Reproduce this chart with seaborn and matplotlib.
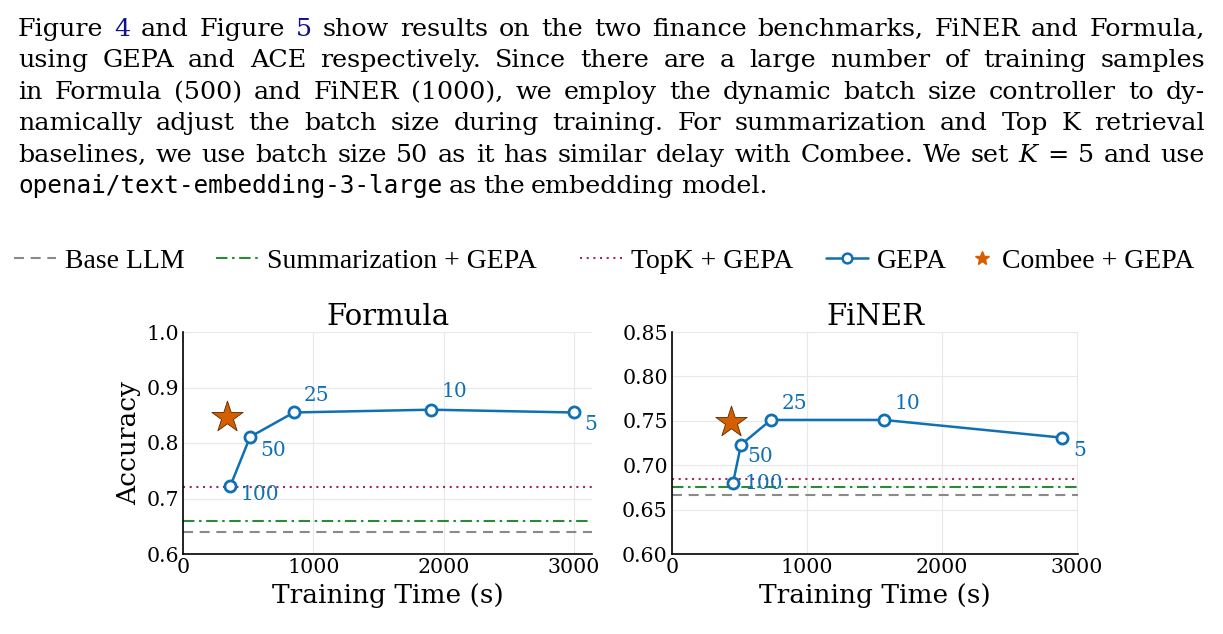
import matplotlib as mpl
import matplotlib.pyplot as plt
from matplotlib.lines import Line2D
import pandas as pd
import seaborn as sns

W, H, DPI = 1223, 634, 100

# --- data ------------------------------------------------------------------
BATCH_SIZES = ["100", "50", "25", "10", "5"]

FORMULA_TIME = [364, 515, 851, 1905, 3000]
FORMULA_ACC = [0.723, 0.811, 0.855, 0.860, 0.855]
FORMULA_COMBEE_TIME = [341]
FORMULA_COMBEE_ACC = [0.846]
FORMULA_BASE = 0.640
FORMULA_SUMM = 0.660
FORMULA_TOPK = 0.720
FORMULA_YTICKS = [0.6, 0.7, 0.8, 0.9, 1.0]

FINER_TIME = [452, 511, 733, 1568, 2891]
FINER_ACC = [0.680, 0.723, 0.751, 0.751, 0.731]
FINER_COMBEE_TIME = [437]
FINER_COMBEE_ACC = [0.749]
FINER_BASE = 0.666
FINER_SUMM = 0.675
FINER_TOPK = 0.685
FINER_YTICKS = [0.60, 0.65, 0.70, 0.75, 0.80, 0.85]

XTICKS = [0, 1000, 2000, 3000]

LEGEND_LABELS = ["Base LLM", "Summarization + GEPA", "TopK + GEPA", "GEPA", "Combee + GEPA"]

PARAGRAPH = [
    "Figure @4 and Figure @5 show results on the two finance benchmarks, FiNER and Formula,",
    "using GEPA and ACE respectively. Since there are a large number of training samples",
    "in Formula (500) and FiNER (1000), we employ the dynamic batch size controller to dy-",
    "namically adjust the batch size during training. For summarization and Top K retrieval",
    "baselines, we use batch size 50 as it has similar delay with Combee. We set _K = 5 and use",
    "`openai/text-embedding-3-large as the embedding model.",
]

# --- style -------------------------------------------------------------------
COLOR = {
    "blue": "#1070B4",
    "orange": "#D55E00",
    "gray": "#8A8A8A",
    "green": "#2A8A3A",
    "purple": "#9C2B62",
    "link": "#10108A",
    "grid": "#E8E8E8",
}
DASHED = (0, (4.8, 3.2))
DASHDOT = (0, (5.5, 2.2, 1.2, 2.2))
DOTTED = (0, (1.0, 2.2))
LEGEND_FONT = "Liberation Serif"
PARA_FONT = "DejaVu Serif"


def draw_panel(ax, title, time, acc, combee_t, combee_a, base, summ, topk,
               yticks, ylim, xmax, fmt, offsets):
    ax.axhline(base, color=COLOR["gray"], ls=DASHED, lw=1.5, zorder=2)
    ax.axhline(summ, color=COLOR["green"], ls=DASHDOT, lw=1.5, zorder=2)
    ax.axhline(topk, color=COLOR["purple"], ls=DOTTED, lw=1.5, zorder=2)

    df = pd.DataFrame({"time": time, "acc": acc})
    sns.lineplot(data=df, x="time", y="acc", ax=ax, color=COLOR["blue"], lw=1.8,
                 marker="o", markersize=8, markerfacecolor="white",
                 markeredgecolor=COLOR["blue"], markeredgewidth=2.0, zorder=4)
    sns.scatterplot(x=combee_t, y=combee_a, ax=ax, marker="*", s=560,
                    color=COLOR["orange"], edgecolor="#5a2a00", linewidth=0.6, zorder=5)

    for t, a, lab, off in zip(time, acc, BATCH_SIZES, offsets):
        ax.annotate(lab, (t, a), xytext=off, textcoords="offset points",
                    ha="center", va="center", fontsize=14.5, color=COLOR["blue"])

    ax.set_xlim(0, xmax)
    ax.set_ylim(*ylim)
    ax.set_xticks(XTICKS)
    ax.set_yticks(yticks)
    ax.set_yticklabels([fmt.format(v) for v in yticks])
    ax.set_title(title, fontsize=21, pad=5, color="black")
    ax.set_xlabel("Training Time (s)", fontsize=19, labelpad=4, color="black")
    ax.set_ylabel("")
    ax.tick_params(direction="in", length=4, width=1, labelsize=14.8, pad=3, colors="black")
    ax.grid(True, color=COLOR["grid"], lw=0.8)
    for side in ["top", "right"]:
        ax.spines[side].set_visible(False)
    for side in ["left", "bottom"]:
        ax.spines[side].set_color("black")
        ax.spines[side].set_linewidth(1.2)


def draw_legend(fig):
    handles = [
        Line2D([], [], color=COLOR["gray"], ls=DASHED, lw=1.5),
        Line2D([], [], color=COLOR["green"], ls=DASHDOT, lw=1.5),
        Line2D([], [], color=COLOR["purple"], ls=DOTTED, lw=1.5),
        Line2D([], [], color=COLOR["blue"], lw=1.8, marker="o", markersize=7,
               markerfacecolor="white", markeredgecolor=COLOR["blue"], markeredgewidth=1.8),
        Line2D([], [], ls="none", marker="*", markersize=10, color=COLOR["orange"]),
    ]
    x_px = [14, 216, 580, 826, 971]
    hlen = [1.5, 1.5, 1.5, 1.5, 0.78]
    # one legend per entry so every item sits where it does in the reference
    for h, lab, x, hl in zip(handles, LEGEND_LABELS, x_px, hlen):
        fig.legend([h], [lab], loc="center left", bbox_to_anchor=(x / W, 1 - 261 / H),
                   frameon=False, borderpad=0, borderaxespad=0, handlelength=hl,
                   handletextpad=0.33, prop={"family": LEGEND_FONT, "size": 20})


def token_style(tok):
    if tok.startswith("@"):
        return tok[1:], {"color": COLOR["link"]}
    if tok.startswith("_"):
        return tok[1:], {"style": "italic"}
    if tok.startswith("`"):
        return tok[1:], {"family": "DejaVu Sans Mono", "size": 17.6}
    return tok, {}


def draw_paragraph(fig):
    renderer = fig.canvas.get_renderer()
    ident = mpl.transforms.IdentityTransform()
    left, right, top, gap_y, size = 18, 1205, 36, 31.4, 18.3
    for i, line in enumerate(PARAGRAPH):
        y = H - (top + i * gap_y)
        texts = []
        for tok in line.split():
            word, kw = token_style(tok)
            kw = {"family": PARA_FONT, "size": size, "color": "black", **kw}
            texts.append(fig.text(0, y, word, transform=ident, va="baseline", ha="left", **kw))
        widths = [t.get_window_extent(renderer).width for t in texts]
        if i < len(PARAGRAPH) - 1:
            gap = (right - left - sum(widths)) / (len(texts) - 1)
        else:
            gap = 0.25 * size * DPI / 72
        x = left
        for t, w in zip(texts, widths):
            t.set_x(x)
            x += w + gap


def main():
    sns.set_style("whitegrid")
    mpl.rcParams["font.family"] = ["DejaVu Serif"]
    mpl.rcParams["text.color"] = "black"
    mpl.rcParams["axes.labelcolor"] = "black"

    fig = plt.figure(figsize=(W / DPI, H / DPI), dpi=DPI)
    ax1 = fig.add_axes([183 / W, 1 - 554 / H, (592 - 183) / W, 222 / H])
    ax2 = fig.add_axes([672 / W, 1 - 554 / H, (1078 - 672) / W, 222 / H])

    draw_panel(ax1, "Formula", FORMULA_TIME, FORMULA_ACC, FORMULA_COMBEE_TIME,
               FORMULA_COMBEE_ACC, FORMULA_BASE, FORMULA_SUMM, FORMULA_TOPK,
               FORMULA_YTICKS, (0.6, 1.0), 3140, "{:.1f}",
               [(21, -6.5), (16.5, -9.5), (16.5, 12), (17, 13), (12, -9)])
    ax1.set_ylabel("Accuracy", fontsize=19, labelpad=4, color="black")

    draw_panel(ax2, "FiNER", FINER_TIME, FINER_ACC, FINER_COMBEE_TIME,
               FINER_COMBEE_ACC, FINER_BASE, FINER_SUMM, FINER_TOPK,
               FINER_YTICKS, (0.60, 0.85), 3008, "{:.2f}",
               [(22, -0.5), (14, -8.5), (17, 12), (17, 12), (12.5, -9.5)])

    draw_legend(fig)
    draw_paragraph(fig)
    fig.savefig("out.png", dpi=DPI, facecolor="white")


if __name__ == "__main__":
    main()
